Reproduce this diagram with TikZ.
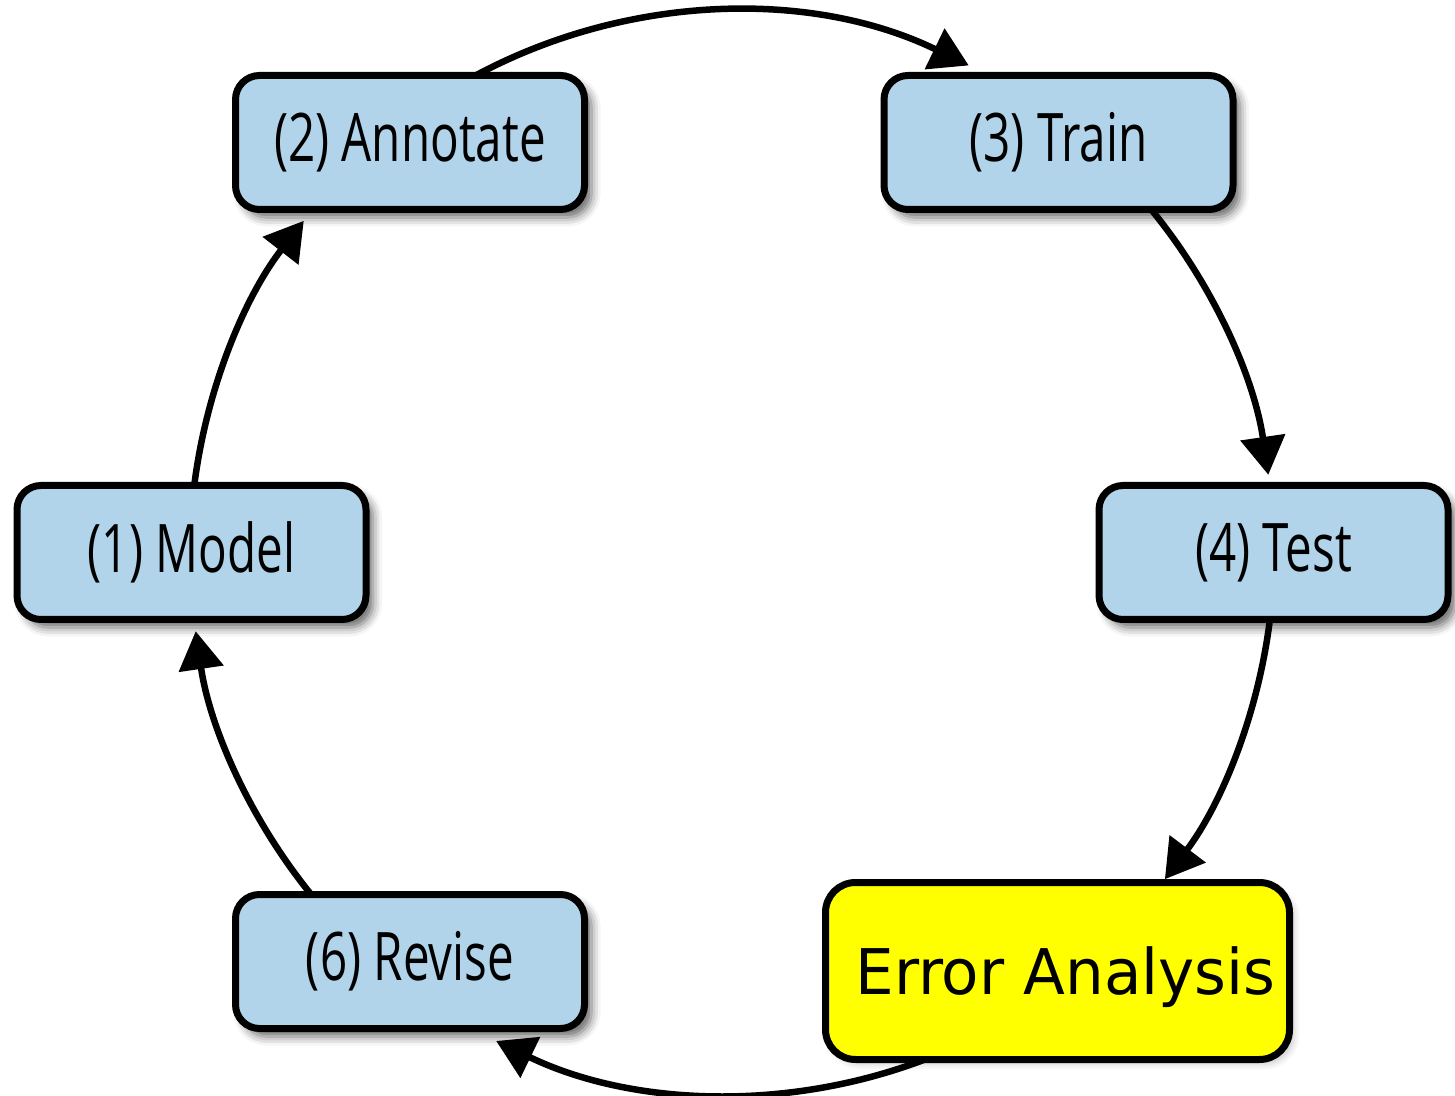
\documentclass[tikz,border=0pt]{standalone}
\usepackage{fontspec}
\newfontfamily\condfont[FakeStretch=0.71]{Open Sans}
\newfontfamily\errfont[FakeStretch=0.97]{DejaVu Sans}
\usetikzlibrary{arrows.meta,shadows.blur}
\definecolor{boxblue}{RGB}{177,212,234}
\definecolor{pureyellow}{RGB}{255,255,0}
\begin{document}
\begin{tikzpicture}[x=1pt,y=1pt,
  stagebox/.style={draw=black, line width=7pt, rounded corners=24pt, fill=boxblue,
    minimum width=349pt, minimum height=134pt, inner sep=2pt,
    font=\condfont\fontsize{67}{70}\selectfont,
    blur shadow={shadow xshift=7pt, shadow yshift=-8pt, shadow blur radius=9pt, shadow opacity=60}},
  errbox/.style={draw=black, line width=7pt, rounded corners=30pt, fill=pureyellow,
    minimum width=464pt, minimum height=177pt, inner sep=2pt,
    font=\errfont\fontsize{63}{66}\selectfont,
    blur shadow={shadow xshift=5pt, shadow yshift=-5pt, shadow blur radius=6pt, shadow opacity=20}},
  flow/.style={line width=6.5pt, -{Triangle[length=38pt,width=44pt]}}]
\useasboundingbox (0,0) rectangle (1455,1095);
\coordinate (c) at (732,542);
\node[stagebox] (annot) at (410,952.5) {(2) Annotate};
\node[stagebox] (train) at (1058.5,952.5) {(3) Train};
\node[stagebox] (model) at (191.5,542.5) {(1) Model};
\node[stagebox] (test) at (1273.5,542.5) {(4) Test};
\node[stagebox] (revise) at (410,133.5) {(6) Revise};
\node[errbox] (error) at (1057.5,124) {\hspace*{16pt}\raisebox{-6pt}[\height][\depth]{Error Analysis}};
% connector end points on the cycle circle
\coordinate (annot-out) at ([shift={(118.1:542)}]c);
\coordinate (train-out) at ([shift={(39.3:542)}]c);
\coordinate (test-out) at ([shift={(-7.2:542)}]c);
\coordinate (error-out) at ([shift={(-69.3:542)}]c);
\coordinate (revise-out) at ([shift={(-141.0:542)}]c);
\coordinate (model-out) at ([shift={(172.8:542)}]c);
\draw[flow] (annot-out) arc[start angle=118.1, end angle=64.1, radius=542];
\draw[flow] (train-out) arc[start angle=39.3, end angle=8.3, radius=542];
\draw[flow] (test-out) arc[start angle=-7.2, end angle=-37.0, radius=542];
\draw[flow] (error-out) arc[start angle=-69.3, end angle=-115.8, radius=542];
\draw[flow] (revise-out) arc[start angle=-141.0, end angle=-171.7, radius=542];
\draw[flow] (model-out) arc[start angle=172.8, end angle=142.2, radius=542];
\end{tikzpicture}
\end{document}
